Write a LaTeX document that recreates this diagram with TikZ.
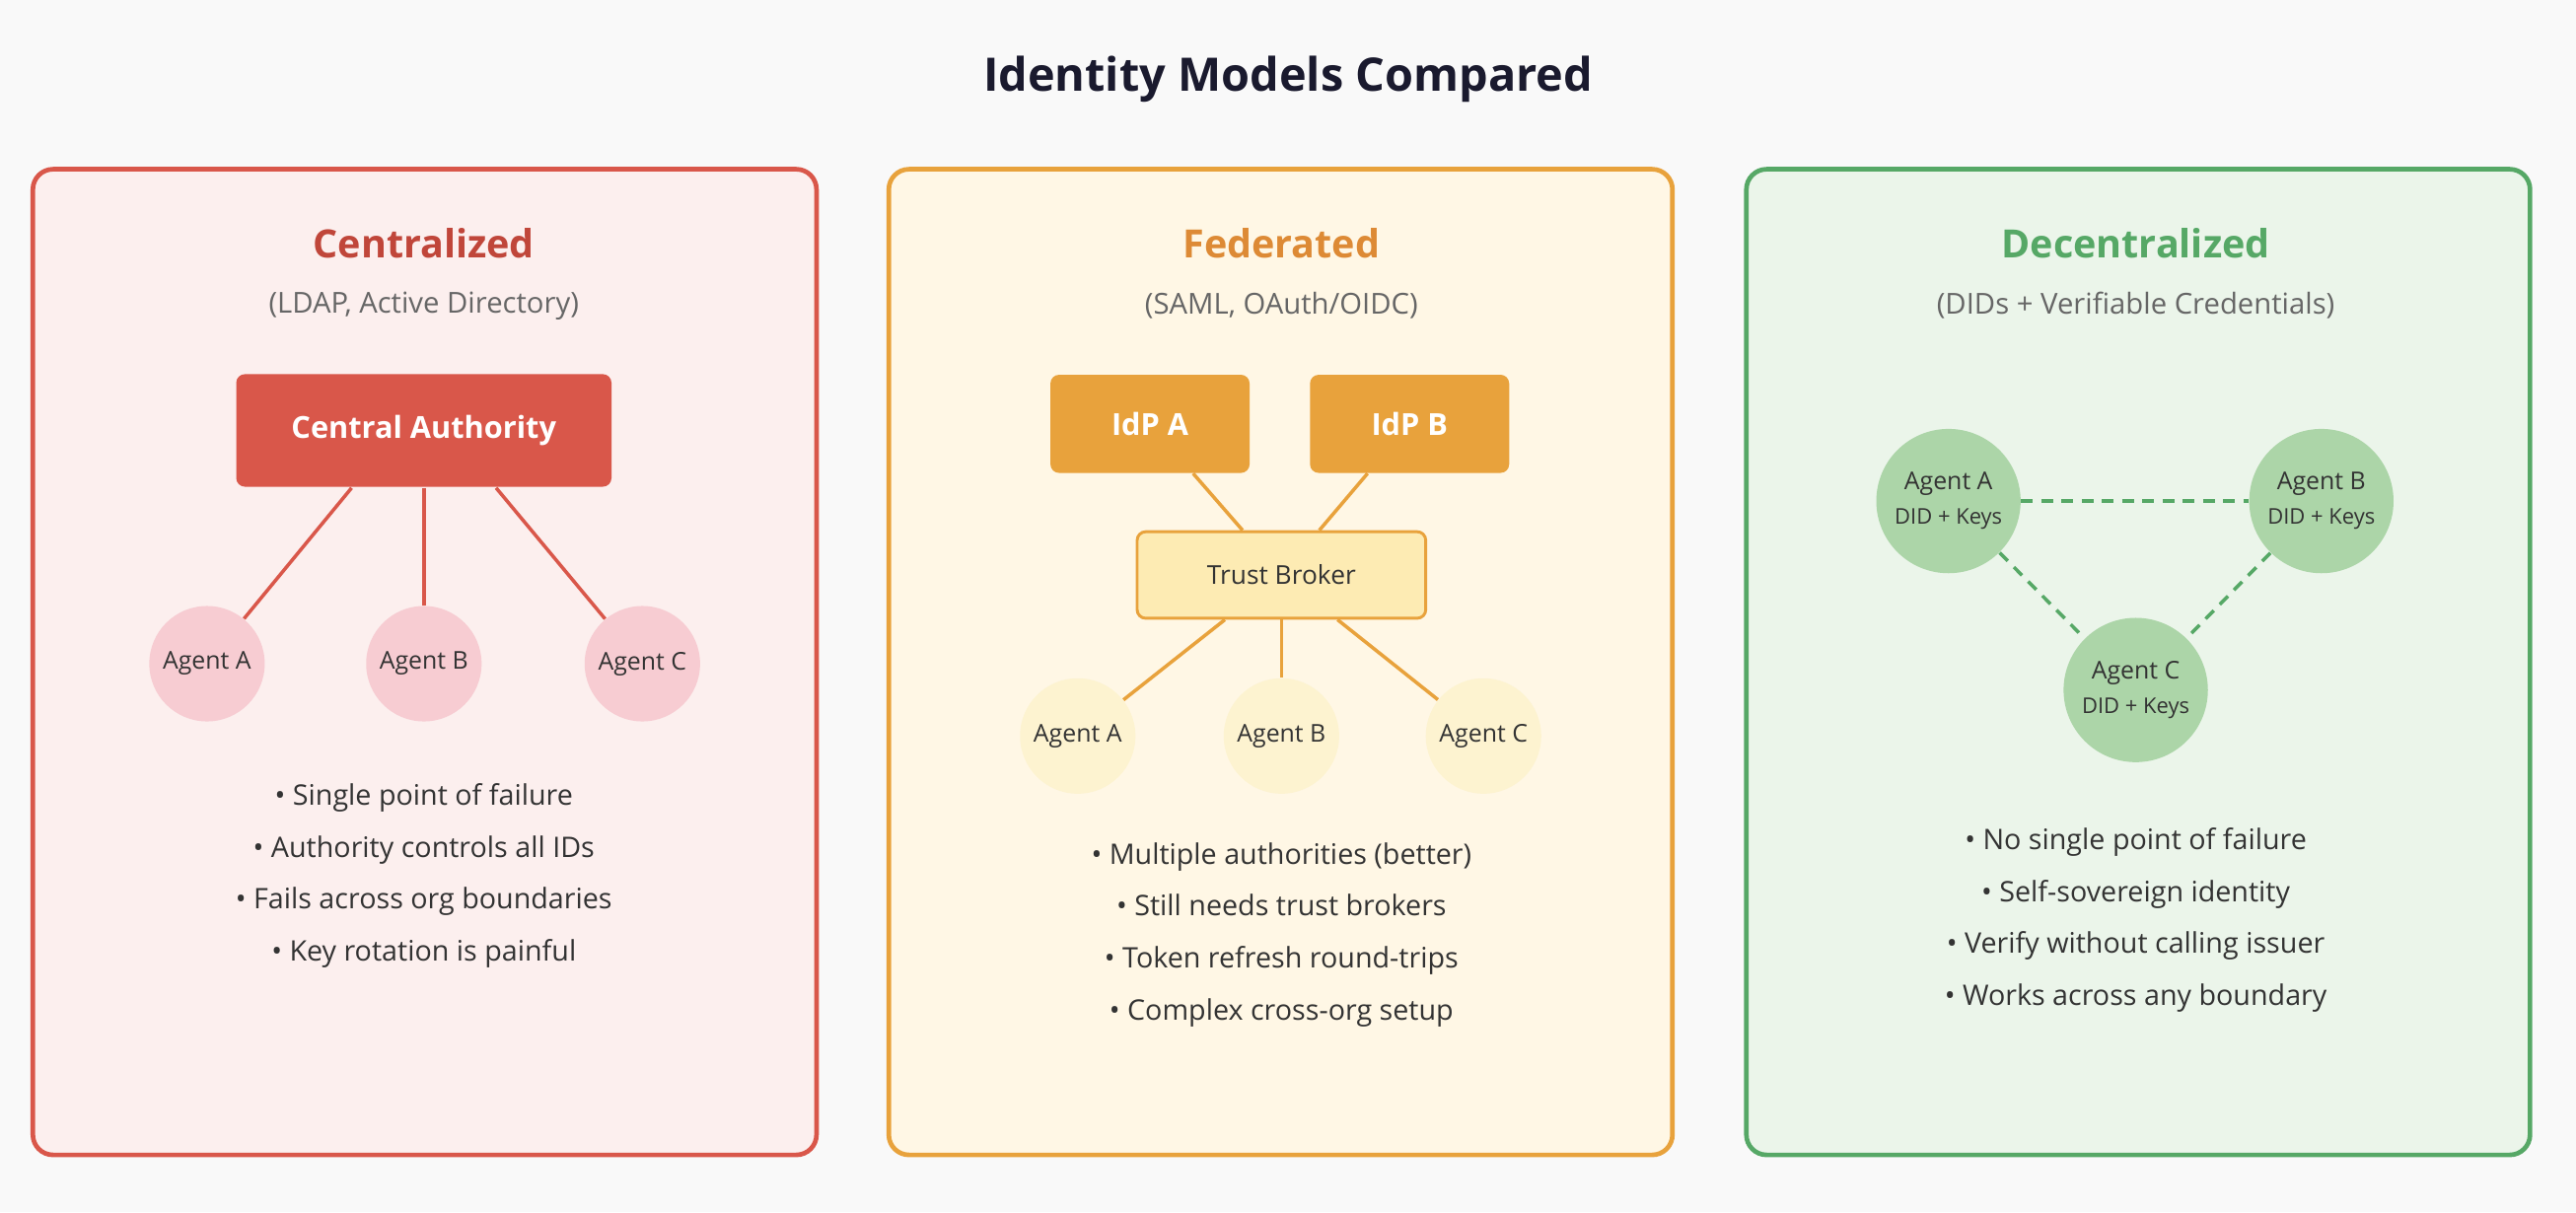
\documentclass[tikz,border=0pt]{standalone}
\usepackage{fontspec}
\setmainfont{Open Sans}
\usetikzlibrary{positioning}
\definecolor{pagebg}{HTML}{F9F9F9}
\definecolor{titleink}{HTML}{1A1A2E}
\definecolor{textink}{HTML}{333333}
\definecolor{subink}{HTML}{666666}
\definecolor{cenred}{HTML}{D9574A}
\definecolor{cenhead}{HTML}{C0463A}
\definecolor{cenfill}{HTML}{FCEFEE}
\definecolor{cenagent}{HTML}{F7CCD2}
\definecolor{fedorange}{HTML}{E8A23C}
\definecolor{fedhead}{HTML}{DD8A35}
\definecolor{fedfill}{HTML}{FFF7E5}
\definecolor{fedbroker}{HTML}{FDEBB3}
\definecolor{fedagent}{HTML}{FDF3D0}
\definecolor{decgreen}{HTML}{56A866}
\definecolor{decfill}{HTML}{EBF5EA}
\definecolor{decagent}{HTML}{ACD5A8}

\tikzset{
  panel/.style={draw=#1, line width=1.6pt, rounded corners=7pt},
  heading/.style={font=\fontsize{13.5}{16}\selectfont\bfseries, text=#1},
  subtitle/.style={font=\fontsize{10}{12}\selectfont, text=subink},
  bullets/.style={font=\fontsize{9.8}{18}\selectfont, text=textink, align=center},
  authority/.style={fill=#1, rounded corners=3pt, text=white, font=\fontsize{10.5}{12}\selectfont\bfseries},
  agent/.style={circle, fill=#1, minimum size=40pt, inner sep=0pt, text=textink, font=\fontsize{8.5}{10}\selectfont},
  link/.style={draw=#1, line width=1.2pt}
}

\begin{document}
\begin{tikzpicture}[x=0.02cm, y=-0.02cm]
      \fill[pagebg] (0,0) rectangle (1568,738);
      \node[font=\fontsize{16}{19}\selectfont\bfseries, text=titleink] (title) at (784,48) {Identity Models Compared};

      % centralized
      \filldraw[panel=cenred, fill=cenfill] (20,103) rectangle (497,703);
      \node[heading=cenhead] (ch) at (258,148) {Centralized};
      \node[subtitle] (cs) at (258,186) {(LDAP, Active Directory)};
      \node[authority=cenred, minimum width=130pt, minimum height=39pt] (ca) at (258,262) {Central Authority};
      \coordinate (ca1o) at (214,297);
      \coordinate (ca2o) at (258,297);
      \coordinate (ca3o) at (302,297);
      \node[agent=cenagent] (ca1) at (126,404) {Agent A};
      \node[agent=cenagent] (ca2) at (258,404) {Agent B};
      \node[agent=cenagent] (ca3) at (391,404) {Agent C};
      \foreach \j in {1,2,3} {
          \draw[link=cenred] (ca\j o) -- (ca\j);
      }
      \node[bullets] (cb) at (258,533) {• Single point of failure\\• Authority controls all IDs\\• Fails across org boundaries\\• Key rotation is painful};

      % federated
      \filldraw[panel=fedorange, fill=fedfill] (541,103) rectangle (1018,703);
      \node[heading=fedhead] (fh) at (780,148) {Federated};
      \node[subtitle] (fs) at (780,186) {(SAML, OAuth/OIDC)};
      \node[authority=fedorange, minimum width=69pt, minimum height=34pt] (idpa) at (700,258) {IdP A};
      \node[authority=fedorange, minimum width=69pt, minimum height=34pt] (idpb) at (858,258) {IdP B};
      \node[fill=fedbroker, draw=fedorange, line width=1pt, rounded corners=3pt, minimum width=100pt, minimum height=30pt, text=textink, font=\fontsize{9}{11}\selectfont] (tb) at (780,350) {Trust Broker};
      \node[agent=fedagent] (fa1) at (656,448) {Agent A};
      \node[agent=fedagent] (fa2) at (780,448) {Agent B};
      \node[agent=fedagent] (fa3) at (903,448) {Agent C};
      \draw[link=fedorange] (idpa) -- (tb);
      \draw[link=fedorange] (idpb) -- (tb);
      \foreach \j in {fa1,fa2,fa3} {
          \draw[link=fedorange] (tb) -- (\j);
      }
      \node[bullets] (fb) at (780,569) {• Multiple authorities (better)\\• Still needs trust brokers\\• Token refresh round-trips\\• Complex cross-org setup};

      % decentralized
      \filldraw[panel=decgreen, fill=decfill] (1063,103) rectangle (1540,703);
      \node[heading=decgreen] (dh) at (1300,148) {Decentralized};
      \node[subtitle] (ds) at (1300,186) {(DIDs + Verifiable Credentials)};
      \node[agent=decagent, minimum size=50pt, align=center] (da1) at (1186,305) {Agent A\\[2pt]{\fontsize{7.5}{9}\selectfont DID + Keys}};
      \node[agent=decagent, minimum size=50pt, align=center] (da2) at (1413,305) {Agent B\\[2pt]{\fontsize{7.5}{9}\selectfont DID + Keys}};
      \node[agent=decagent, minimum size=50pt, align=center] (da3) at (1300,420) {Agent C\\[2pt]{\fontsize{7.5}{9}\selectfont DID + Keys}};
      \draw[link=decgreen, dash pattern=on 4pt off 3pt] (da1) -- (da2);
      \draw[link=decgreen, dash pattern=on 4pt off 3pt] (da1) -- (da3);
      \draw[link=decgreen, dash pattern=on 4pt off 3pt] (da2) -- (da3);
      \node[bullets] (db) at (1300,560) {• No single point of failure\\• Self-sovereign identity\\• Verify without calling issuer\\• Works across any boundary};
\end{tikzpicture}
\end{document}
